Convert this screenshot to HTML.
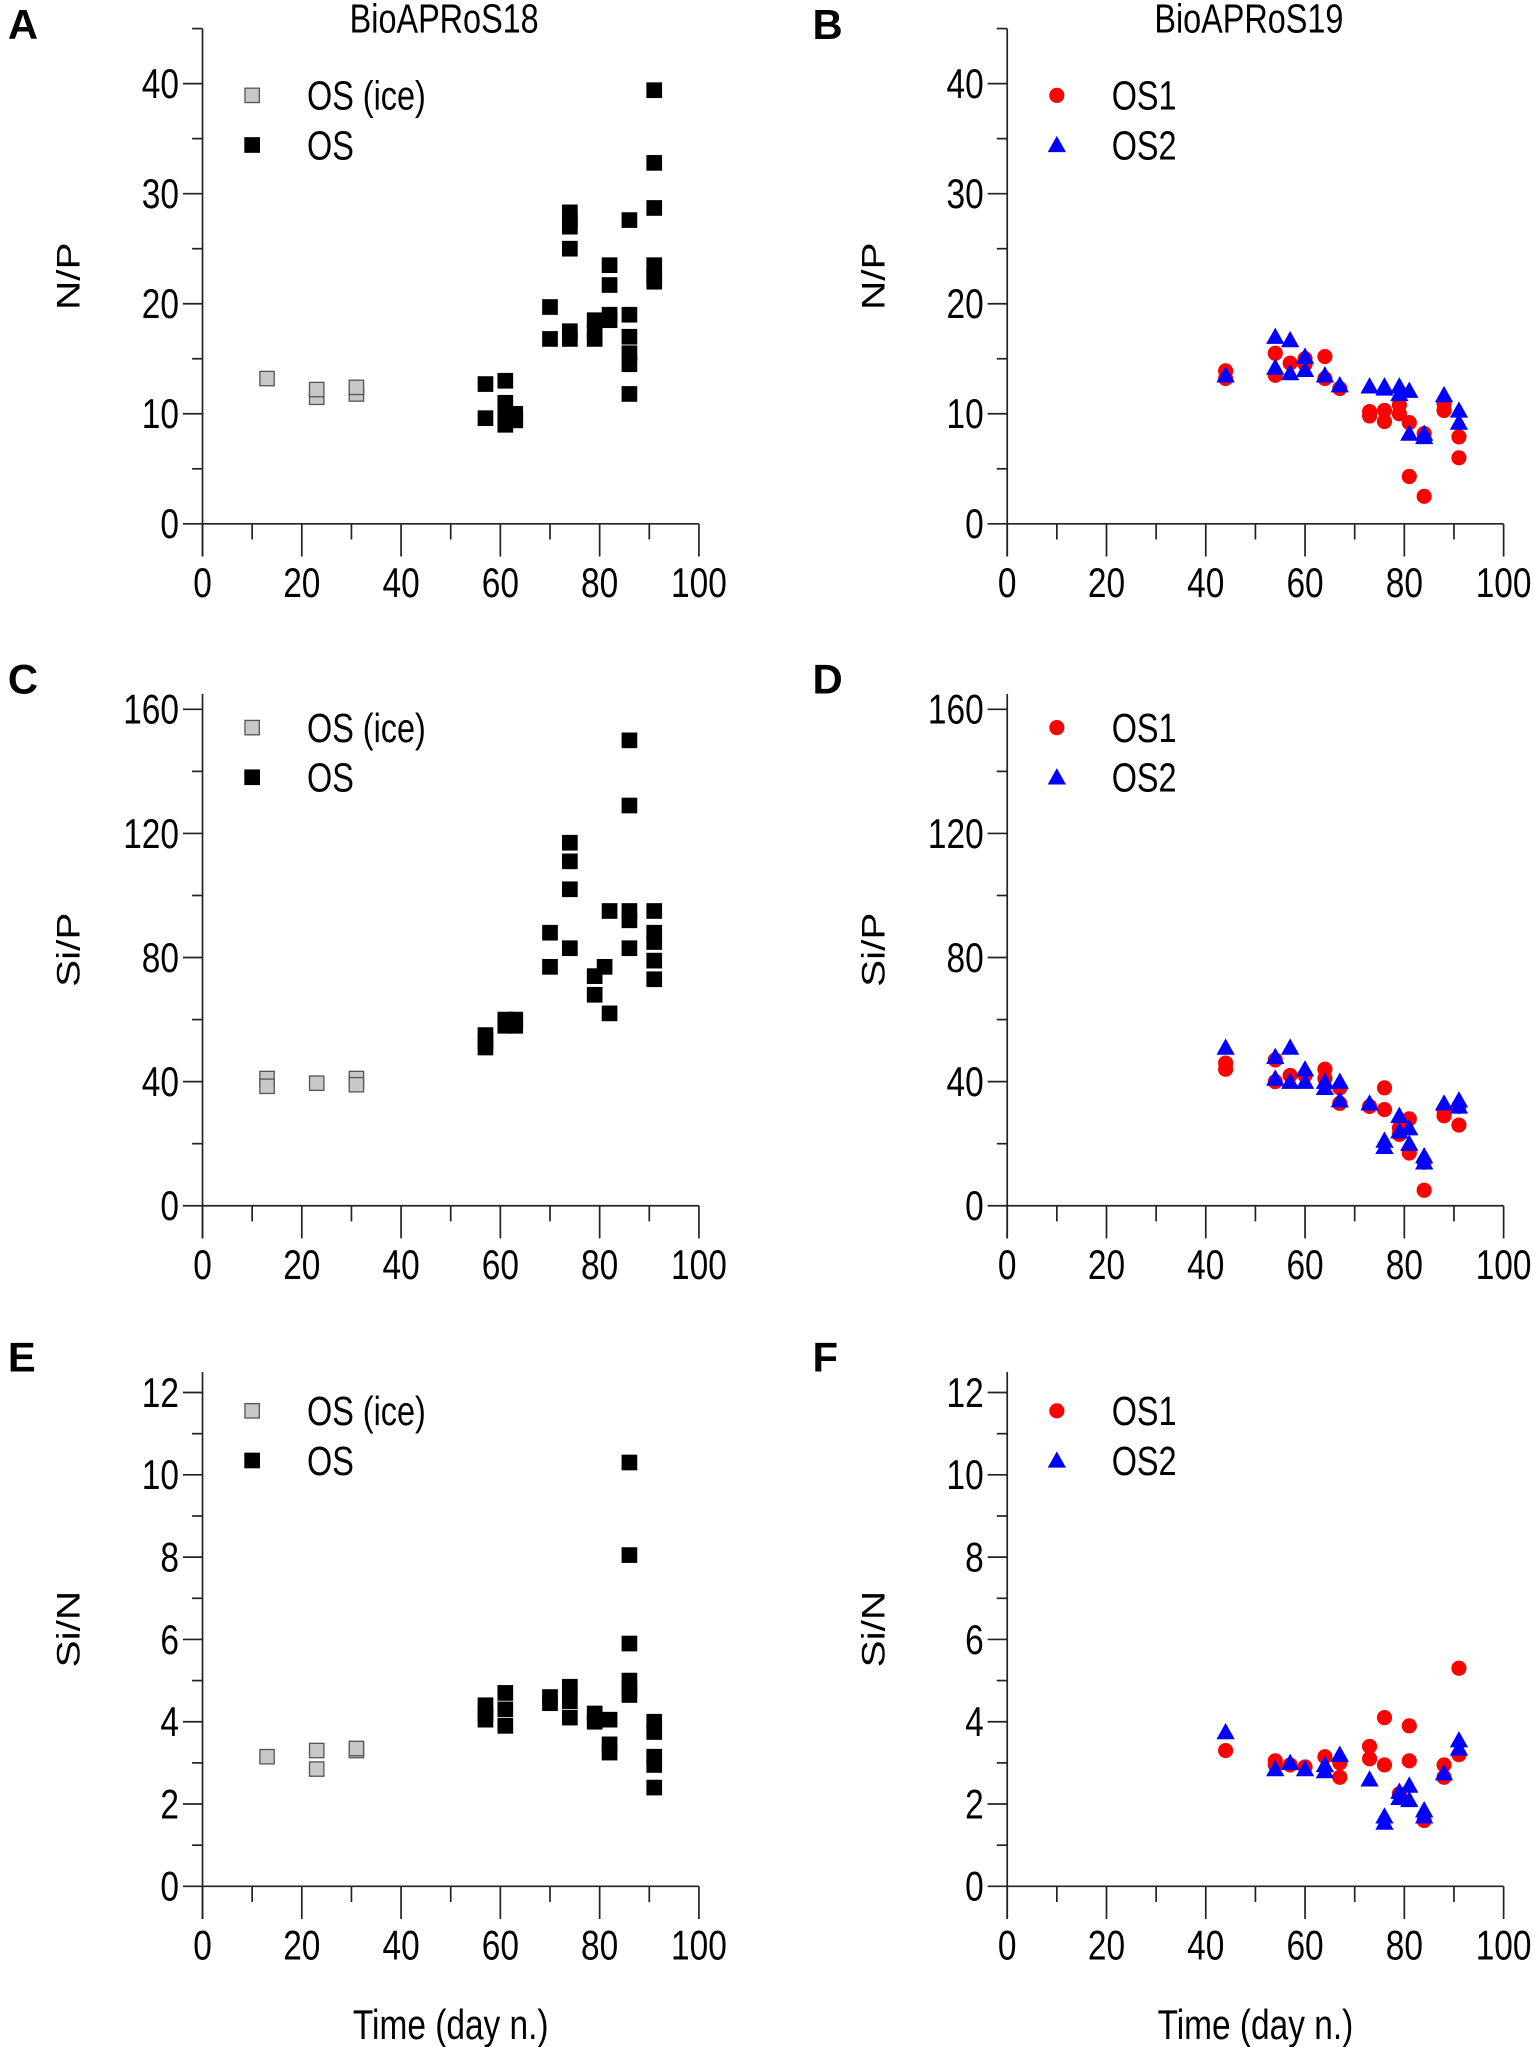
<!DOCTYPE html>
<html><head><meta charset="utf-8"><style>
html,body{margin:0;padding:0;background:#fff;}
svg{display:block;}
text{font-family:"Liberation Sans Narrow","Liberation Sans",sans-serif;fill:#000;}
</style></head><body>
<svg id="s" width="1535" height="2047" viewBox="0 0 1175 1567" xmlns="http://www.w3.org/2000/svg"></svg>
<script>
const S=document.getElementById('s');let h='';
function T(x,y,t,sz,anc,extra){h+=`<text transform="translate(${x},${y}) scale(0.8,1)${extra||''}" font-size="${sz}" text-anchor="${anc}">${t}</text>`;}
function L(x1,y1,x2,y2){h+=`<line x1="${x1}" y1="${y1}" x2="${x2}" y2="${y2}" stroke="#222" stroke-width="1.3"/>`;}
const panels=[
 {ox:155,y0:401,ppu:8.425,top:45,maj:10,yl:['0','10','20','30','40'],lab:'N/P',letter:'A',lyL:30,title:'BioAPRoS18',left:true,ly:[73,111]},
 {ox:771,y0:401,ppu:8.425,top:45,maj:10,yl:['0','10','20','30','40'],lab:'N/P',letter:'B',lyL:30,title:'BioAPRoS19',left:false,ly:[73,111]},
 {ox:155,y0:923,ppu:2.375,top:165,maj:40,yl:['0','40','80','120','160'],lab:'Si/P',letter:'C',lyL:531,left:true,ly:[557,595]},
 {ox:771,y0:923,ppu:2.375,top:165,maj:40,yl:['0','40','80','120','160'],lab:'Si/P',letter:'D',lyL:531,left:false,ly:[557,595]},
 {ox:155,y0:1444,ppu:31.5,top:12.5,maj:2,yl:['0','2','4','6','8','10','12'],lab:'Si/N',letter:'E',lyL:1050,left:true,ly:[1080,1118],time:true},
 {ox:771,y0:1444,ppu:31.5,top:12.5,maj:2,yl:['0','2','4','6','8','10','12'],lab:'Si/N',letter:'F',lyL:1050,left:false,ly:[1080,1118],time:true}];
const xl=['0','20','40','60','80','100'];
function sq(x,y,f){h+=`<rect x="${x-5.5}" y="${y-5.5}" width="11" height="11" fill="${f}" stroke="${f=='#000'?'#000':'#555'}" stroke-width="1"/>`;}
function ci(x,y){h+=`<circle cx="${x}" cy="${y}" r="5.8" fill="#f00"/>`;}
function tr(x,y){h+=`<polygon points="${x},${y-7} ${x-7},${y+5.5} ${x+7},${y+5.5}" fill="#00f"/>`;}
const data=[
 {ice:[[13,13.2],[23,11.5],[23,12.2],[31,11.8],[31,12.4]],os:[[57,12.7],[57,9.6],[61,13],[61,11],[61,9],[61,10],[63,9.4],[63,10],[70,19.7],[70,16.8],[74,28.3],[74,27.5],[74,27],[74,25],[74,17.5],[74,16.8],[79,18.5],[79,17.5],[79,16.8],[82,23.5],[82,21.7],[82,19],[82,18.5],[86,27.6],[86,19],[86,17],[86,15.5],[86,14.5],[86,11.8],[91,39.4],[91,32.8],[91,28.7],[91,23.5],[91,22.5],[91,22]]},
 {a:[[44,13.9],[44,13.2],[54,15.5],[54,13.5],[57,14.6],[60,15],[60,14.5],[64,15.2],[64,13.2],[67,12.3],[73,9.8],[73,10.2],[76,10.3],[76,9.3],[79,10.8],[79,10],[81,9.2],[81,4.3],[84,8.2],[84,2.5],[88,10.9],[88,10.3],[91,7.9],[91,6]],
  b:[[44,13.5],[54,17],[54,14.2],[57,16.7],[57,13.7],[60,15.2],[60,14],[64,13.5],[67,12.6],[73,12.5],[76,12.5],[76,12.3],[79,12.5],[79,11.8],[81,12.1],[81,8.2],[84,8.2],[84,7.9],[88,11.7],[91,10.3],[91,9.2]]},
 {ice:[[13,41],[13,38.5],[23,39.5],[31,41],[31,39]],os:[[57,55],[57,51],[57,53],[61,58],[61,60],[63,58],[63,60],[70,88],[70,77],[74,117],[74,111],[74,102],[74,83],[79,74],[79,68],[81,77],[82,95],[82,62],[86,150],[86,129],[86,95],[86,92],[86,83],[91,95],[91,88],[91,85],[91,79],[91,73]]},
 {a:[[44,46],[44,44],[54,40],[54,47],[57,42],[60,42],[64,44],[64,41],[67,38],[67,33],[73,32],[76,38],[76,31],[79,23],[79,25],[81,28],[81,17],[84,14],[84,5],[88,31],[88,29],[91,32],[91,26]],
  b:[[44,51],[54,48],[54,41],[57,51],[57,40],[60,44],[60,40],[64,40],[64,38],[67,40],[67,34],[73,33],[76,21],[76,19],[79,29],[79,24],[81,25],[81,20],[84,16],[84,14],[88,33],[91,34],[91,32]]},
 {ice:[[13,3.15],[23,3.3],[23,2.85],[31,3.3],[31,3.35]],os:[[57,4.4],[57,4.2],[57,4.05],[61,4.7],[61,4.3],[61,3.9],[70,4.6],[70,4.45],[74,4.85],[74,4.5],[74,4.1],[79,4.2],[79,4.0],[82,4.05],[82,3.45],[82,3.25],[86,10.3],[86,8.05],[86,5.9],[86,5.0],[86,4.8],[86,4.65],[91,4.0],[91,3.75],[91,3.15],[91,2.95],[91,2.4]]},
 {a:[[44,3.3],[54,3.05],[54,2.95],[57,2.95],[60,2.9],[64,3.15],[67,3.0],[67,2.65],[73,3.4],[73,3.1],[76,4.1],[76,2.95],[79,2.25],[81,3.9],[81,3.05],[84,1.6],[88,2.95],[88,2.65],[91,5.3],[91,3.2]],
  b:[[44,3.75],[54,2.85],[57,3.0],[60,2.85],[64,2.95],[64,2.8],[67,3.2],[73,2.6],[76,1.7],[76,1.55],[79,2.3],[79,2.15],[81,2.45],[81,2.1],[84,1.85],[84,1.7],[88,2.75],[91,3.55],[91,3.35]]}];
panels.forEach((p,i)=>{
 const X=v=>p.ox+v*3.8, Y=v=>p.y0-v*p.ppu;
 const topY=Y(p.top);
 L(p.ox,topY,p.ox,p.y0+25);
 L(p.ox-15,p.y0,X(100),p.y0);
 for(let v=0;v<=100;v+=10){L(X(v),p.y0,X(v),p.y0+(v%20==0?25:12));}
 for(let k=1;k*p.maj/2<=p.top+1e-9;k++){const v=k*p.maj/2;L(p.ox-(k%2==0?15:8),Y(v),p.ox,Y(v));}
 xl.forEach((t,j)=>T(X(j*20),p.y0+56,t,32,'middle'));
 p.yl.forEach((t,j)=>T(p.ox-18,Y(j*p.maj)+11,t,32,'end'));
 const cy=(p.y0+topY)/2;
 T(p.ox-94,cy,p.lab,31,'middle',' rotate(-90)');
 h+=`<text x="${p.ox-149}" y="${p.lyL}" font-size="32" font-weight="bold" font-family="Liberation Sans,sans-serif">${p.letter}</text>`;
 if(p.title)T(p.ox+185,25,p.title,31,'middle');
 if(p.time)T(p.ox+190,1561,'Time (day n.)',32,'middle');
 const d=data[i];
 if(p.left){
  d.ice.forEach(q=>sq(X(q[0]),Y(q[1]),'#c8c8c8'));
  d.os.forEach(q=>sq(X(q[0]),Y(q[1]),'#000'));
  sq(193,p.ly[0],'#c8c8c8');sq(193,p.ly[1],'#000');
  T(235,p.ly[0]+11,'OS (ice)',31,'start');T(235,p.ly[1]+11,'OS',31,'start');
 } else {
  d.a.forEach(q=>ci(X(q[0]),Y(q[1])));
  d.b.forEach(q=>tr(X(q[0]),Y(q[1])));
  ci(p.ox+38,p.ly[0]);tr(p.ox+38,p.ly[1]);
  T(p.ox+80,p.ly[0]+11,'OS1',31,'start');T(p.ox+80,p.ly[1]+11,'OS2',31,'start');
 }
});
S.innerHTML=h;
</script>
</body></html>
